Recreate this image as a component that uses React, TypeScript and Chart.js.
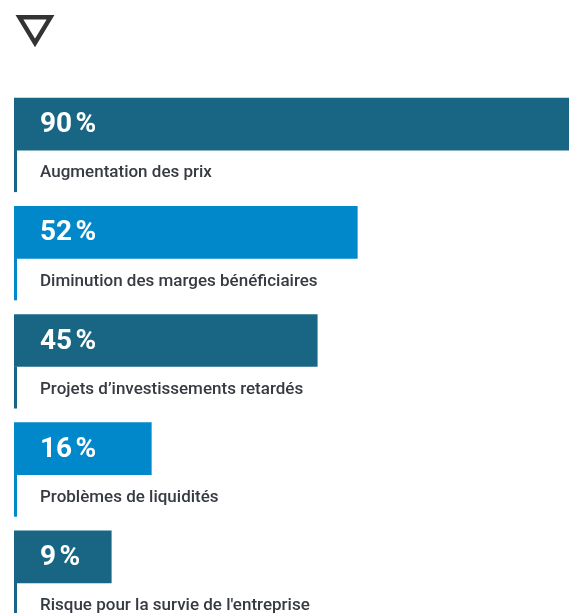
import React, { useEffect, useRef } from "react";
import { Chart, registerables } from "chart.js";

Chart.register(...registerables);

const categories = [
  "Augmentation des prix",
  "Diminution des marges bénéficiaires",
  "Projets d’investissements retardés",
  "Problèmes de liquidités",
  "Risque pour la survie de l'entreprise",
];
const values = [90, 52, 45, 16, 9];
const valueLabels = values.map((v) => `${v}\u202f%`);
const barColors = ["#186683", "#0088cb", "#186683", "#0088cb", "#186683"];

const FONT = "Roboto, 'Noto Sans', sans-serif";

const decorPlugin = {
  id: "decor",
  afterDatasetsDraw(chart: any) {
    const ctx = chart.ctx as CanvasRenderingContext2D;
    const meta = chart.getDatasetMeta(0);
    ctx.save();
    // triangle icon
    ctx.strokeStyle = "#333333";
    ctx.lineWidth = 4.5;
    ctx.lineJoin = "miter";
    ctx.beginPath();
    ctx.moveTo(19.5, 17.3);
    ctx.lineTo(50.5, 17.3);
    ctx.lineTo(35, 43);
    ctx.closePath();
    ctx.stroke();

    meta.data.forEach((bar: any, i: number) => {
      const { y, base, height } = bar.getProps(["y", "base", "height"], true);
      const bottom = y + height / 2;
      // vertical line
      ctx.fillStyle = barColors[i];
      ctx.fillRect(base, bottom, 3, 42);
      // value label
      ctx.fillStyle = "#ffffff";
      ctx.font = `700 28px ${FONT}`;
      ctx.textAlign = "left";
      ctx.textBaseline = "middle";
      ctx.fillText(valueLabels[i], base + 26, y + 1);
      // category label
      ctx.fillStyle = "#363a41";
      ctx.font = `500 17px ${FONT}`;
      ctx.fillText(categories[i], base + 26, bottom + 23);
    });
    ctx.restore();
  },
};

export default function App() {
  const ref = useRef<HTMLCanvasElement | null>(null);
  useEffect(() => {
    if (!ref.current) return;
    const chart = new Chart(ref.current, {
      type: "bar",
      data: {
        labels: categories,
        datasets: [
          {
            data: values,
            backgroundColor: barColors,
            borderWidth: 0,
            barThickness: 52,
            base: -8,
          },
        ],
      },
      options: {
        indexAxis: "y",
        animation: false,
        responsive: false,
        layout: { padding: { left: 14, right: 0, top: 70, bottom: 2 } },
        plugins: { legend: { display: false }, tooltip: { enabled: false } },
        scales: {
          x: { display: false, min: -8, max: 89 },
          y: { display: false },
        },
      },
      plugins: [decorPlugin],
    });
    return () => chart.destroy();
  }, []);
  return (
    <div style={{ position: "fixed", left: 0, top: 0, width: 569, height: 613, background: "#fff" }}>
      <canvas ref={ref} width={569} height={613} style={{ width: 569, height: 613, display: "block" }} />
    </div>
  );
}
